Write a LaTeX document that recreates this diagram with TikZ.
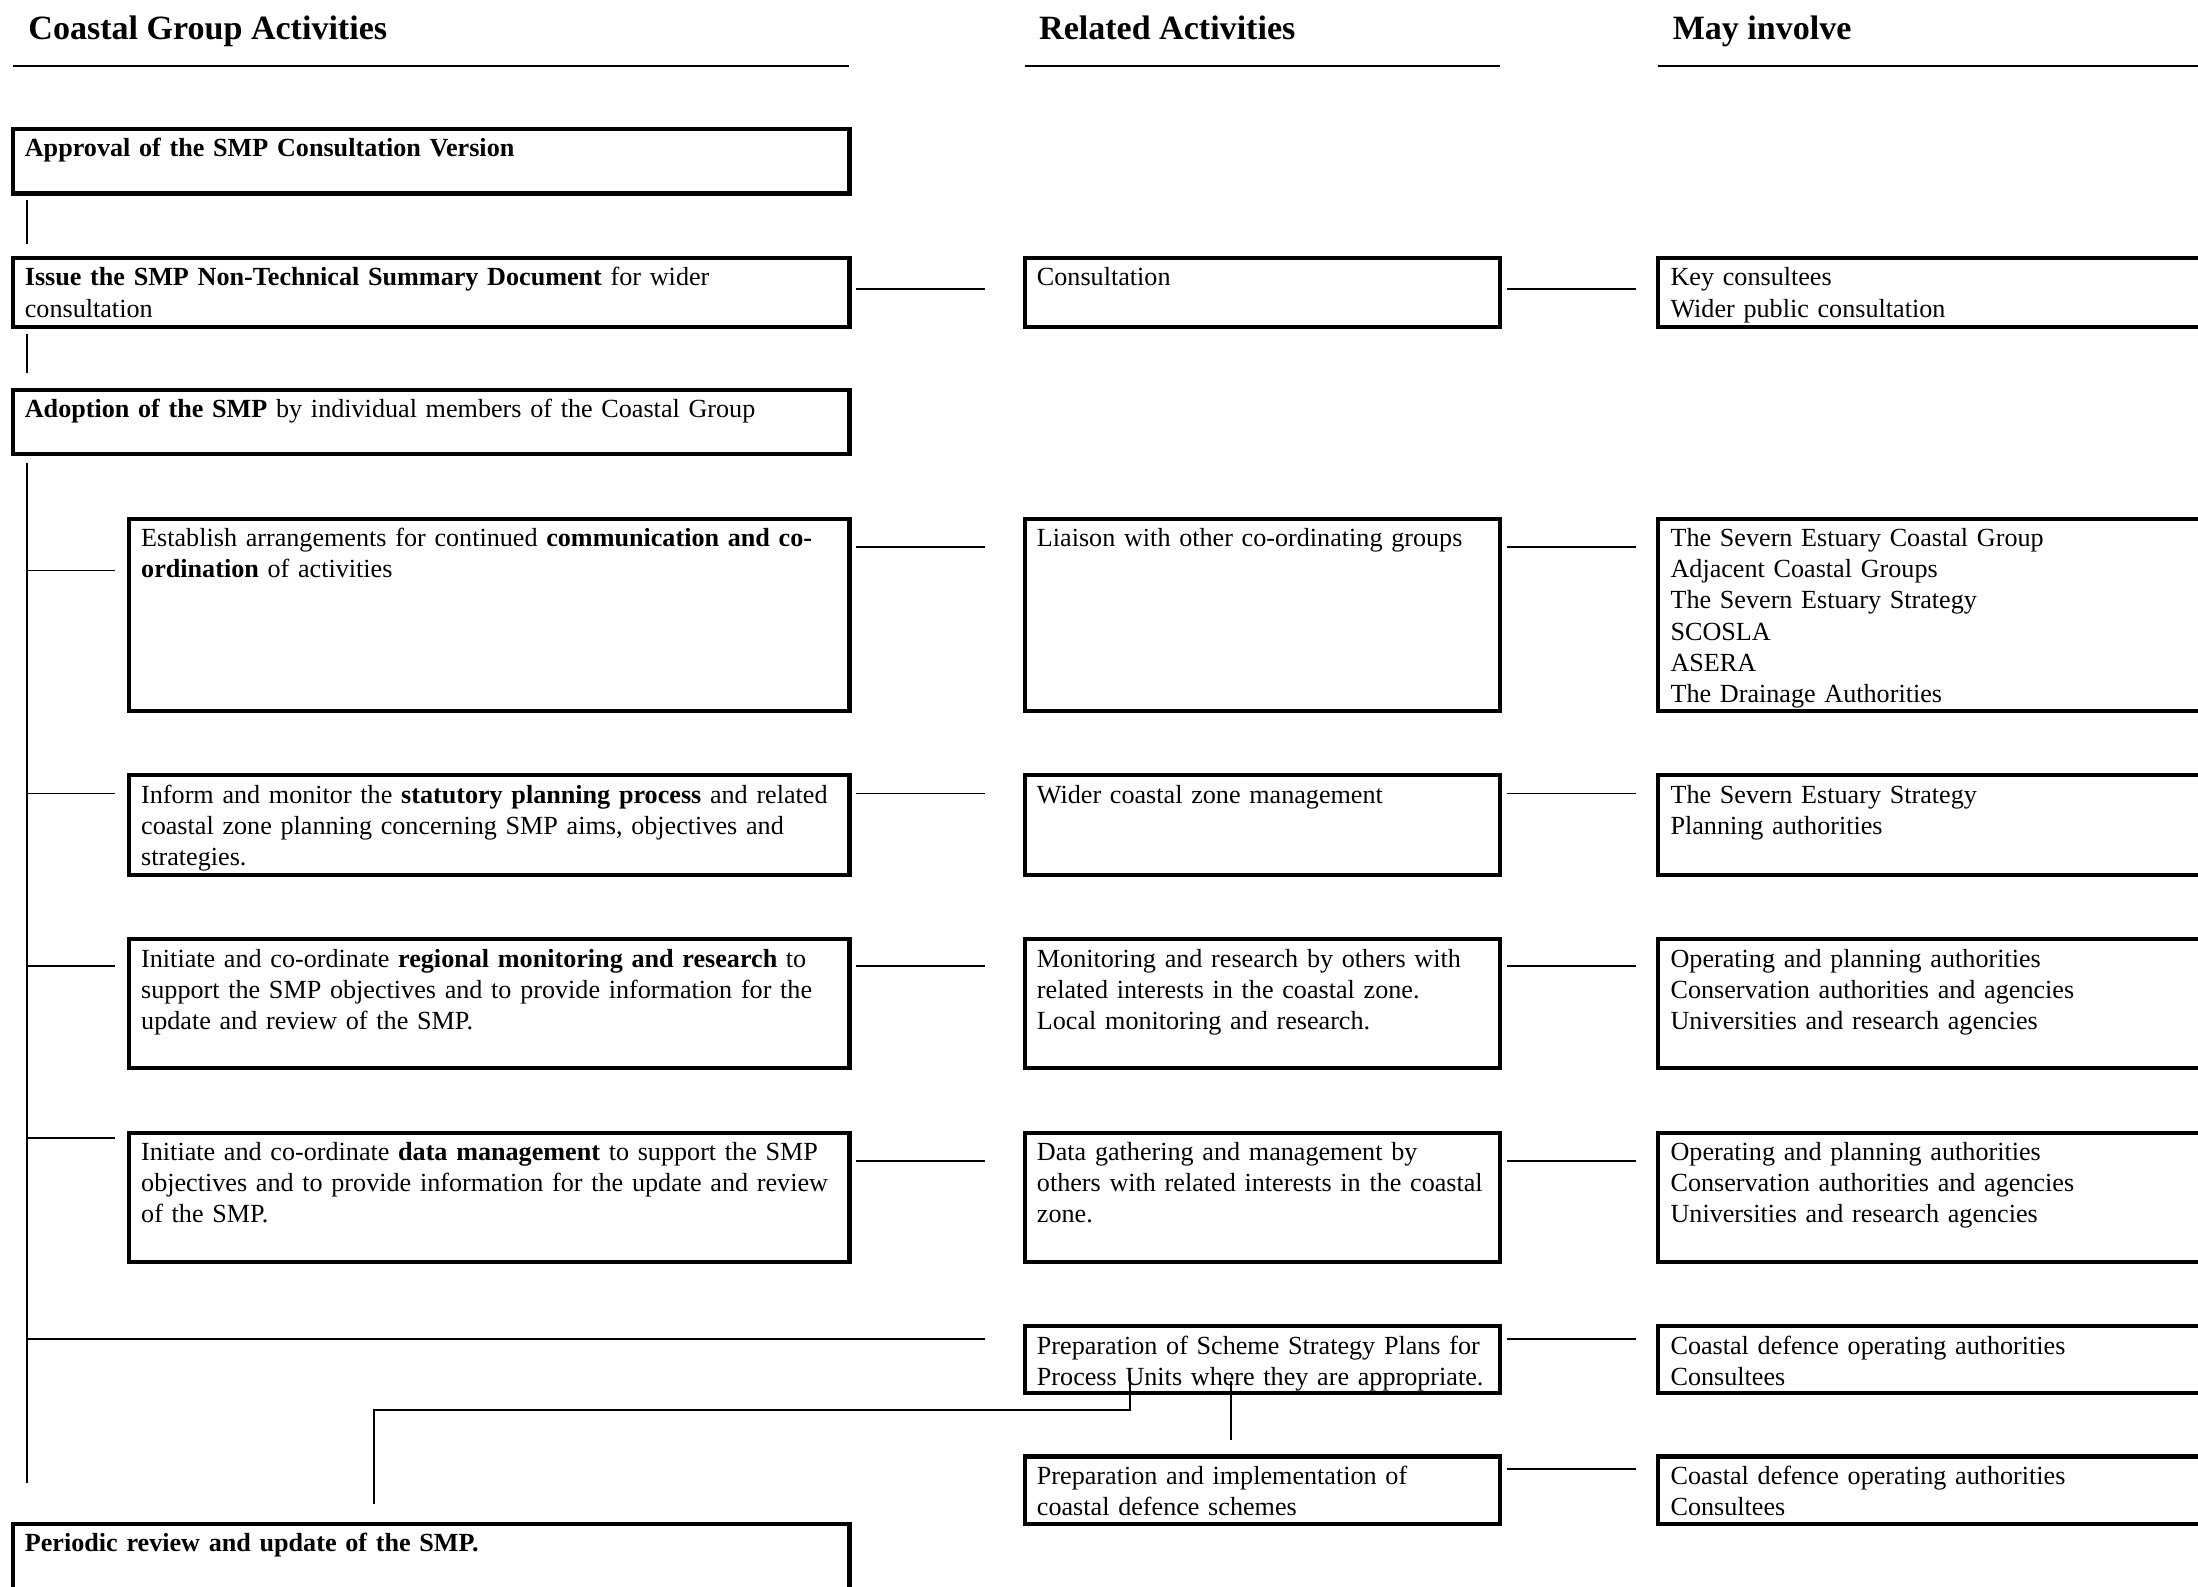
\documentclass[tikz,border=0pt]{standalone}
\usepackage{fontspec}
\setmainfont{Liberation Serif}
\usepackage{tikz}
\usetikzlibrary{calc}

\tikzset{
  head/.style={anchor=base west, inner sep=0pt, font=\fontsize{15.3}{18}\selectfont\bfseries},
  rule/.style={line width=1pt},
  box/.style={draw, line width=1.9pt, anchor=north west, align=left, outer sep=0pt,
    inner xsep=5.5pt, inner ysep=0pt, text height=12.6pt,
    font=\fontsize{11.75}{14}\selectfont,
    execute at begin node={\hyphenpenalty=10000\relax\exhyphenpenalty=10000\relax}},
  mainbox/.style={box, text width=365.1pt},
  subbox/.style={box, text width=312.8pt},
  relbox/.style={box, text width=202.6pt},
  whobox/.style={box, text width=253.6pt},
  link/.style={line width=0.8pt},
}

\begin{document}
\begin{tikzpicture}[x=0.63pt, y=-0.63pt]
    \useasboundingbox (0,0) rectangle (1568,1132);
    % Column headings
    \node[head] (hgroup) at (20,28) {Coastal Group Activities};
    \node[head] (hrel) at (741,28) {Related Activities};
    \node[head] (hwho) at (1193,28) {May involve};
    \draw[rule] (9,47) -- (606,47);
    \draw[rule] (731,47) -- (1070,47);
    \draw[rule] (1183,47) -- (1600,47);
    % Coastal Group activities
    \node[mainbox, text depth=16.4pt] (approval) at (9,92) {\textbf{Approval of the SMP Consultation Version}};
    \node[mainbox, text depth=18.3pt] (issue) at (9,184) {\textbf{Issue the SMP Non-Technical Summary Document} for wider\\consultation};
    \node[mainbox, text depth=16.4pt] (adoption) at (9,278) {\textbf{Adoption of the SMP} by individual members of the Coastal Group};
    \node[subbox, text depth=73.7pt] (establish) at (92,370) {Establish arrangements for continued \textbf{communication and co-}\\\textbf{ordination} of activities};
    \node[subbox, text depth=32.1pt] (inform) at (92,553) {Inform and monitor the \textbf{statutory planning process} and related\\coastal zone planning concerning SMP aims, objectives and\\strategies.};
    \node[subbox, text depth=45.4pt] (regional) at (92,670) {Initiate and co-ordinate \textbf{regional monitoring and research} to\\support the SMP objectives and to provide information for the\\update and review of the SMP.};
    \node[subbox, text depth=45.4pt] (datamgmt) at (92,808) {Initiate and co-ordinate \textbf{data management} to support the SMP\\objectives and to provide information for the update and review\\of the SMP.};
    \node[mainbox, text depth=38pt] (periodic) at (9,1087) {\textbf{Periodic review and update of the SMP.}};
    % Related activities
    \node[relbox, text depth=18.3pt] (consult) at (731,184) {Consultation};
    \node[relbox, text depth=73.7pt] (liaison) at (731,370) {Liaison with other co-ordinating groups};
    \node[relbox, text depth=32.1pt] (widerczm) at (731,553) {Wider coastal zone management};
    \node[relbox, text depth=45.4pt] (monitoring) at (731,670) {Monitoring and research by others with\\related interests in the coastal zone.\\Local monitoring and research.};
    \node[relbox, text depth=45.4pt] (datagather) at (731,808) {Data gathering and management by\\others with related interests in the coastal\\zone.};
    \node[relbox, text depth=17.6pt] (schemeplans) at (731,946) {Preparation of Scheme Strategy Plans for\\Process Units where they are appropriate.};
    \node[relbox, text depth=17.6pt] (schemes) at (731,1039) {Preparation and implementation of\\coastal defence schemes};
    % May involve
    \node[whobox, text depth=18.3pt] (keycons) at (1183,184) {Key consultees\\Wider public consultation};
    \node[whobox, text depth=73.7pt] (liaisonwho) at (1183,370) {The Severn Estuary Coastal Group\\Adjacent Coastal Groups\\The Severn Estuary Strategy\\SCOSLA\\ASERA\\The Drainage Authorities};
    \node[whobox, text depth=32.1pt] (planwho) at (1183,553) {The Severn Estuary Strategy\\Planning authorities};
    \node[whobox, text depth=45.4pt] (monwho) at (1183,670) {Operating and planning authorities\\Conservation authorities and agencies\\Universities and research agencies};
    \node[whobox, text depth=45.4pt] (datawho) at (1183,808) {Operating and planning authorities\\Conservation authorities and agencies\\Universities and research agencies};
    \node[whobox, text depth=17.6pt] (schemeplanswho) at (1183,946) {Coastal defence operating authorities\\Consultees};
    \node[whobox, text depth=17.6pt] (schemeswho) at (1183,1039) {Coastal defence operating authorities\\Consultees};
    % Main sequence
    \draw[link] ($(approval.south west)+(10,5)$) -- ($(issue.north west)+(10,-10)$);
    \draw[link] ($(issue.south west)+(10,5)$) -- ($(adoption.north west)+(10,-12)$);
    \coordinate (trunktop) at ($(adoption.south west)+(10,6)$);
    \draw[link] (trunktop) -- ($(periodic.north west)+(10,-29)$);
    % Branches off the trunk
    \foreach \nm/\dy in {establish/37, inform/13, regional/19, datamgmt/4}
        \draw[link] ($(\nm.north west)+(-10,\dy)$) -- ($(\nm.north west)+(-73,\dy)$);
    \draw[link] ($(schemeplans.north west)+(-28,9)$) -- ($(schemeplans.north west)+(-712,9)$);
    % Across the rows
    \foreach \a/\b/\c/\dy in {issue/consult/keycons/22, establish/liaison/liaisonwho/20,
        inform/widerczm/planwho/13, regional/monitoring/monwho/19, datamgmt/datagather/datawho/20}{
        \draw[link] ($(\a.north east)+(5,\dy)$) -- ($(\b.north west)+(-28,\dy)$);
        \draw[link] ($(\b.north east)+(5,\dy)$) -- ($(\c.north west)+(-16,\dy)$);
    }
    \draw[link] ($(schemeplans.north east)+(5,9)$) -- ($(schemeplanswho.north west)+(-16,9)$);
    \draw[link] ($(schemes.north east)+(5,9)$) -- ($(schemeswho.north west)+(-16,9)$);
    % Review loop
    \draw[link] ($(periodic.north west)+(258,-14)$) |- ($(schemeplans.north west)+(75,60)$) -- ($(schemeplans.north west)+(75,34)$);
    \draw[link] ($(schemeplans.north west)+(147,39)$) -- ($(schemes.north west)+(147,-12)$);
\end{tikzpicture}
\end{document}
